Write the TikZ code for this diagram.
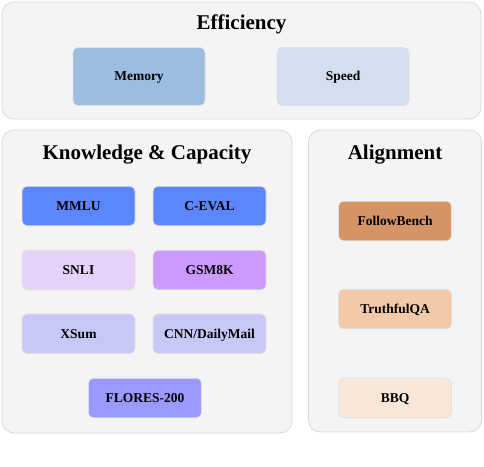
\documentclass[tikz,border=0pt]{standalone}
\usepackage{fontspec}
\setmainfont{Liberation Serif}
\usepackage{tikz}
\usetikzlibrary{positioning}

\definecolor{panelgray}{HTML}{F4F4F4}
\definecolor{panelline}{HTML}{D8D8D8}
\definecolor{memblue}{HTML}{9DBDE0}
\definecolor{speedblue}{HTML}{D5DEEE}
\definecolor{kblue}{HTML}{5C87FC}
\definecolor{klilac}{HTML}{E6D2F8}
\definecolor{kviolet}{HTML}{CC99FF}
\definecolor{kpale}{HTML}{C8C8F8}
\definecolor{kperi}{HTML}{9A9AFE}
\definecolor{aorange}{HTML}{D69465}
\definecolor{apeach}{HTML}{F3CAA9}
\definecolor{acream}{HTML}{FAE6D7}

\begin{document}
\begin{tikzpicture}[x=1pt,y=-1pt,
    panel/.style={draw=panelline,fill=panelgray,line width=0.8pt,rounded corners=12pt},
    paneltitle/.style={font=\fontsize{21}{24}\selectfont\bfseries,
      text height=13.9pt,text depth=0pt,inner sep=0pt},
    bench/.style={draw=black!12,line width=0.6pt,rounded corners=5pt,
      minimum width=113pt,minimum height=39.5pt,inner sep=0pt,
      text height=8.9pt,text depth=0pt,
      font=\fontsize{13.5}{16}\selectfont\bfseries},
    bigbench/.style={bench,minimum width=132pt,minimum height=58pt}]

			\useasboundingbox (0,0) rectangle (484,466);

			% efficiency
			\draw[panel] (2,2) rectangle (481,119);
			\node[paneltitle] (efftitle) at (241.5,22.2) {Efficiency};
			\node[bigbench,fill=memblue] (memory) at (139,76.5) {Memory};
			\node[bigbench,fill=speedblue] (speed) at (343,76.5) {Speed};

			% knowledge & capacity
			\draw[panel] (2,130) rectangle (292,433);
			\node[paneltitle] (knowtitle) at (147,152.2) {Knowledge \& Capacity};
			\node[bench,fill=kblue] (mmlu) at (78.5,206) {MMLU};
			\node[bench,fill=kblue] (ceval) at (209.5,206) {C-EVAL};
			\node[bench,fill=klilac] (snli) at (78.5,270) {SNLI};
			\node[bench,fill=kviolet] (gsm) at (209.5,270) {GSM8K};
			\node[bench,fill=kpale] (xsum) at (78.5,333.7) {XSum};
			\node[bench,fill=kpale] (cnndm) at (209.5,333.7) {CNN/DailyMail};
			\node[bench,fill=kperi] (flores) at (145,398) {FLORES-200};

			% alignment
			\draw[panel] (308.5,130) rectangle (481.5,432);
			\node[paneltitle] (aligntitle) at (395,152.2) {Alignment};
			\node[bench,fill=aorange] (follow) at (395,221) {FollowBench};
			\node[bench,fill=apeach] (truthful) at (395,309) {TruthfulQA};
			\node[bench,fill=acream] (bbq) at (395,398) {BBQ};

		\end{tikzpicture}
\end{document}
